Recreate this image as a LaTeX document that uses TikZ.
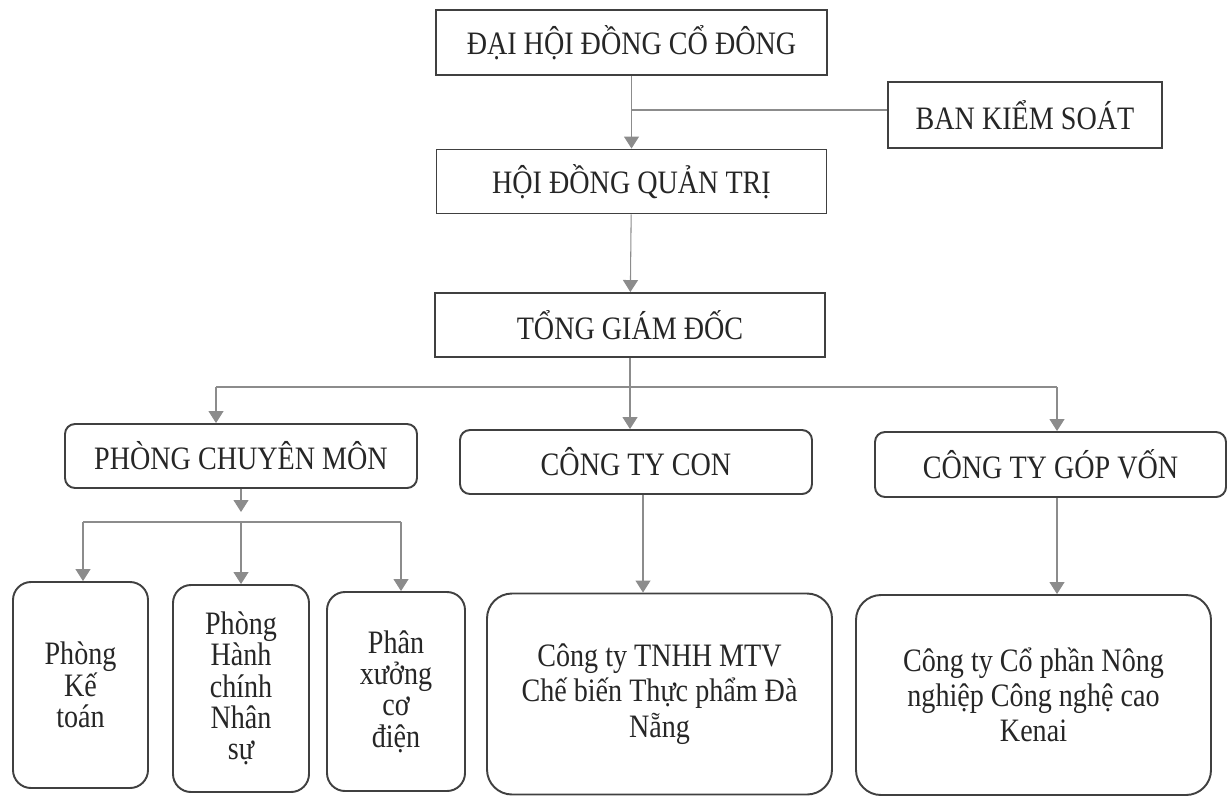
\documentclass[tikz,border=0pt]{standalone}
\usepackage{fontspec}
\setmainfont[FakeStretch=0.86]{Liberation Serif}
\usetikzlibrary{arrows.meta}

\tikzset{
  box/.style={draw=black!75, line width=1.1pt, inner sep=0pt, text=black!85,
    align=center, font=\fontsize{18.6}{20}\selectfont},
  topbox/.style={box, minimum width=7.8cm, minimum height=1.28cm},
  midbox/.style={box, rounded corners=0.2cm, minimum width=7.04cm, minimum height=1.28cm},
  subbox/.style={box, rounded corners=0.36cm, minimum width=2.72cm,
    font=\fontsize{18.6}{17.8}\selectfont},
  bigbox/.style={box, rounded corners=0.5cm, minimum height=4.02cm},
  conn/.style={draw=black!45, line width=0.6pt},
  arr/.style={conn, -{Triangle[width=0.3cm,length=0.24cm]}, black!45}
}

\begin{document}
\begin{tikzpicture}
\useasboundingbox (0,0) rectangle (24.54,-15.92);
% upper levels
\node[topbox, minimum width=7.82cm, minimum height=1.3cm] (dhdcd) at (12.63,-0.85) {ĐẠI HỘI ĐỒNG CỔ ĐÔNG};
\node[topbox, minimum width=5.48cm, minimum height=1.32cm] (bks) at (20.50,-2.30) {BAN KIỂM SOÁT};
\node[topbox] (hdqt) at (12.63,-3.63) {HỘI ĐỒNG QUẢN TRỊ};
\node[topbox] (tgd) at (12.60,-6.50) {TỔNG GIÁM ĐỐC};
%%------------
\node[midbox] (pcm) at (4.82,-9.12) {PHÒNG CHUYÊN MÔN};
\node[midbox] (ctc) at (12.72,-9.24) {CÔNG TY CON};
\node[midbox, minimum width=7.02cm, minimum height=1.3cm] (ctgv) at (21.01,-9.29) {CÔNG TY GÓP VỐN};
%%------------
\node[subbox, minimum width=2.70cm, minimum height=4.12cm] (pkt) at (1.61,-13.70) {Phòng\\Kế\\toán};
\node[subbox, minimum height=4.14cm] (phc) at (4.82,-13.77) {Phòng\\Hành\\chính\\Nhân\\sự};
\node[subbox, minimum width=2.76cm, minimum height=3.98cm] (pxcd) at (7.92,-13.83) {Phân\\xưởng\\cơ\\điện};
\node[bigbox, minimum width=6.90cm] (tnhh) at (13.19,-13.88) {Công ty TNHH MTV\\Chế biến Thực phẩm Đà\\Nẵng};
\node[bigbox, minimum width=7.10cm, minimum height=4.00cm] (cpnn) at (20.67,-13.90) {Công ty Cổ phần Nông\\nghiệp Công nghệ cao\\Kenai};
%%------------
\coordinate (busL) at (4.32,-7.74);
\coordinate (busR) at (21.14,-7.74);
\coordinate (subbus) at (0,-10.44);
% connectors
\draw[arr] (dhdcd) -- (hdqt);
\draw[conn] (dhdcd.south |- 0,-2.20) -- (bks.west |- 0,-2.20);
\draw[arr] (hdqt) -- (tgd);
\draw[conn] (tgd.south) -- (tgd.south |- busL);
\draw[conn] (busL) -- (busR);
\draw[arr] (busL) -- (busL |- pcm.north);
\draw[arr] (tgd.south |- busL) -- (tgd.south |- ctc.north);
\draw[arr] (busR) -- (busR |- ctgv.north);
\draw[arr] (pcm.south) -- ([yshift=0.2cm]pcm.south |- subbus);
\draw[conn] ([xshift=0.05cm]pkt.north |- subbus) -- ([xshift=0.1cm]pxcd.north |- subbus);
\draw[arr] ([xshift=0.05cm]pkt.north |- subbus) -- ([xshift=0.05cm]pkt.north);
\draw[arr] (phc.north |- subbus) -- (phc.north);
\draw[arr] ([xshift=0.1cm]pxcd.north |- subbus) -- ([xshift=0.1cm]pxcd.north);
\draw[arr] ([xshift=0.14cm]ctc.south) -- ([xshift=0.14cm]ctc.south |- tnhh.north);
\draw[arr] (busR |- ctgv.south) -- (busR |- cpnn.north);
\end{tikzpicture}
\end{document}
